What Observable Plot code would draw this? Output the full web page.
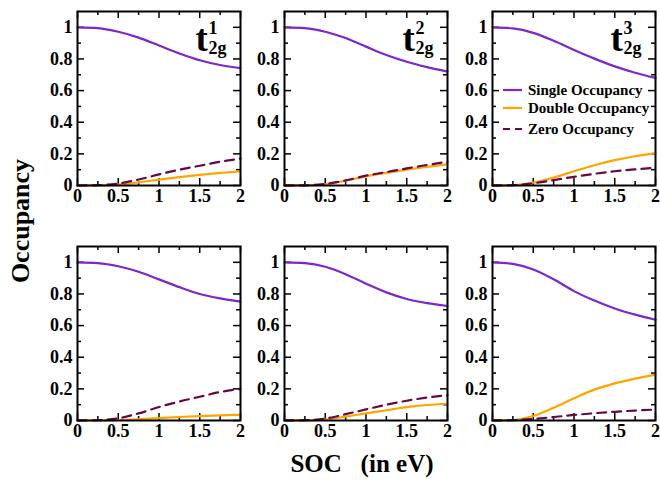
<!DOCTYPE html>
<html><head><meta charset="utf-8">
<script src="https://cdn.jsdelivr.net/npm/d3@7"></script>
<script src="https://cdn.jsdelivr.net/npm/@observablehq/plot@0.6"></script>
<style>
html,body{margin:0;padding:0;background:#fff;}
#chart{position:relative;width:660px;height:483px;overflow:hidden;font-family:"Liberation Serif","Times New Roman",serif;font-weight:bold;}
.panel{position:absolute;}
#overlay{position:absolute;left:0;top:0;}
</style></head><body><div id="chart"></div>
<script>
// x values (SOC in eV)
const soc = [0, 0.25, 0.5, 0.75, 1, 1.25, 1.5, 1.75, 2];

// Panel 1 (t2g^1, top-left)
const single1 = [1.0, 0.995, 0.972, 0.935, 0.885, 0.835, 0.792, 0.762, 0.742];
const double1 = [0, 0.001, 0.006, 0.02, 0.037, 0.053, 0.067, 0.079, 0.09];
const zero1   = [0, 0.002, 0.012, 0.038, 0.07, 0.1, 0.125, 0.15, 0.17];
// Panel 2 (t2g^2, top-middle)
const single2 = [1.0, 0.995, 0.972, 0.932, 0.878, 0.825, 0.782, 0.748, 0.72];
const double2 = [0, 0.001, 0.008, 0.03, 0.058, 0.08, 0.1, 0.118, 0.135];
const zero2   = [0, 0.001, 0.01, 0.032, 0.062, 0.085, 0.108, 0.13, 0.15];
// Panel 3 (t2g^3, top-right)
const single3 = [1.0, 0.993, 0.965, 0.915, 0.857, 0.802, 0.753, 0.713, 0.68];
const double3 = [0, 0.002, 0.018, 0.05, 0.09, 0.128, 0.16, 0.185, 0.205];
const zero3   = [0, 0.002, 0.014, 0.034, 0.055, 0.074, 0.09, 0.102, 0.112];
// Panel 4 (bottom-left)
const single4 = [1.0, 0.995, 0.975, 0.94, 0.892, 0.843, 0.8, 0.772, 0.752];
const double4 = [0, 0.0, 0.003, 0.008, 0.015, 0.022, 0.028, 0.033, 0.036];
const zero4   = [0, 0.002, 0.014, 0.045, 0.085, 0.12, 0.15, 0.18, 0.2];
// Panel 5 (bottom-middle)
const single5 = [1.0, 0.995, 0.972, 0.925, 0.865, 0.81, 0.768, 0.742, 0.724];
const double5 = [0, 0.001, 0.006, 0.024, 0.045, 0.065, 0.085, 0.098, 0.106];
const zero5   = [0, 0.002, 0.012, 0.04, 0.07, 0.1, 0.125, 0.145, 0.16];
// Panel 6 (bottom-right)
const single6 = [1.0, 0.99, 0.955, 0.893, 0.818, 0.758, 0.708, 0.669, 0.637];
const double6 = [0, 0.003, 0.028, 0.08, 0.14, 0.195, 0.235, 0.265, 0.29];
const zero6   = [0, 0.002, 0.01, 0.022, 0.035, 0.046, 0.055, 0.063, 0.069];

// Panel title superscripts (t_2g^n); bottom row untitled
const titleSup = ["1", "2", "3", null, null, null];
const titleBase = "t";
const titleSub = "2g";

// Series names and tick labels
const seriesNames = ["Single Occupancy", "Double Occupancy", "Zero Occupancy"];
const xMajor = [0, 0.5, 1, 1.5, 2];
const xMinor = [0.25, 0.75, 1.25, 1.75];
const yMajor = [0, 0.2, 0.4, 0.6, 0.8, 1];
const yMinor = [0.1, 0.3, 0.5, 0.7, 0.9];
const yLabel = "Occupancy";
const xLabel = "SOC\u00a0\u00a0\u00a0(in eV)";

// ---- styling / layout ----
const colors = ["#7f26c9", "#ffa500", "#670748"];
const W = 163, H = 174;
const ML = 45, MR = 6, MT = 6, MB = 28;
const lefts = [77, 284, 492];
const tops = [11, 246];
const FONT = "'Liberation Serif','Times New Roman',serif";

const singles = [single1, single2, single3, single4, single5, single6];
const doubles = [double1, double2, double3, double4, double5, double6];
const zeros = [zero1, zero2, zero3, zero4, zero5, zero6];

const chart = document.getElementById("chart");

for (let i = 0; i < 6; i++) {
  const col = i % 3, row = Math.floor(i / 3);
  const rows = soc.map((x, j) => ({x, single: singles[i][j], double: doubles[i][j], zero: zeros[i][j]}));
  const tick = {stroke: "black", strokeWidth: 1.5};
  const marks = [
    Plot.ruleX(xMajor, {...tick, insetTop: H - 7}),
    Plot.ruleX(xMajor, {...tick, insetBottom: H - 7}),
    Plot.ruleX(xMinor, {...tick, insetTop: H - 4}),
    Plot.ruleX(xMinor, {...tick, insetBottom: H - 4}),
    Plot.ruleY(yMajor, {...tick, insetRight: W - 7}),
    Plot.ruleY(yMajor, {...tick, insetLeft: W - 7}),
    Plot.ruleY(yMinor, {...tick, insetRight: W - 4}),
    Plot.ruleY(yMinor, {...tick, insetLeft: W - 4}),
    Plot.line(rows, {x: "x", y: "single", stroke: colors[0], strokeWidth: 2.2, curve: "monotone-x"}),
    Plot.line(rows, {x: "x", y: "double", stroke: colors[1], strokeWidth: 2.2, curve: "monotone-x"}),
    Plot.line(rows, {x: "x", y: "zero", stroke: colors[2], strokeWidth: 2.2, strokeDasharray: "9,6", curve: "monotone-x"}),
    Plot.frame({stroke: "black", strokeWidth: 2})
  ];
  if (titleSup[i]) {
    marks.push(
      Plot.text([titleBase], {text: d => d, frameAnchor: "top-right", textAnchor: "start", lineAnchor: "bottom", dx: -45, dy: 39, fontSize: 37, fontWeight: "bold", fill: "black"}),
      Plot.text([titleSub], {text: d => d, frameAnchor: "top-right", textAnchor: "start", lineAnchor: "bottom", dx: -32, dy: 42, fontSize: 18, fontWeight: "bold", fill: "black"}),
      Plot.text([titleSup[i]], {text: d => d, frameAnchor: "top-right", textAnchor: "start", lineAnchor: "bottom", dx: -32, dy: 22, fontSize: 18, fontWeight: "bold", fill: "black"})
    );
  }
  const svg = Plot.plot({
    width: ML + W + MR,
    height: MT + H + MB,
    marginLeft: ML, marginRight: MR, marginTop: MT, marginBottom: MB,
    style: {fontFamily: FONT, fontSize: "18px", fontWeight: "bold", background: "transparent", overflow: "visible", color: "black"},
    x: {domain: [0, 2], ticks: xMajor, tickSize: 0, tickPadding: 4, tickFormat: d => String(d), label: null},
    y: {domain: [0, 1.1], ticks: yMajor, tickSize: 0, tickPadding: 5, tickFormat: d => String(d), label: null},
    marks
  });
  svg.classList.add("panel");
  svg.style.left = (lefts[col] - ML) + "px";
  svg.style.top = (tops[row] - MT) + "px";
  chart.appendChild(svg);
}

// Overlay: axis titles and legend (legend sits inside panel 3)
const ns = "http://www.w3.org/2000/svg";
const ov = document.createElementNS(ns, "svg");
ov.setAttribute("id", "overlay");
ov.setAttribute("width", 660);
ov.setAttribute("height", 483);
function addText(str, attrs) {
  const t = document.createElementNS(ns, "text");
  t.textContent = str;
  for (const k in attrs) t.setAttribute(k, attrs[k]);
  t.setAttribute("font-family", FONT);
  t.setAttribute("font-weight", "bold");
  ov.appendChild(t);
}
addText(yLabel, {x: 0, y: 0, "font-size": 26, "text-anchor": "middle", transform: "translate(29,221) rotate(-90)"});
addText(xLabel, {x: 362, y: 472, "font-size": 25, "text-anchor": "middle"});
const legY = [90, 108, 129];
seriesNames.forEach((name, k) => {
  const l = document.createElementNS(ns, "line");
  l.setAttribute("x1", 503); l.setAttribute("x2", 522);
  l.setAttribute("y1", legY[k]); l.setAttribute("y2", legY[k]);
  l.setAttribute("stroke", colors[k]);
  l.setAttribute("stroke-width", 2.2);
  if (k === 2) l.setAttribute("stroke-dasharray", "7,5");
  ov.appendChild(l);
  addText(name, {x: 528, y: legY[k] + 5, "font-size": 15});
});
chart.appendChild(ov);
</script>
</body></html>
